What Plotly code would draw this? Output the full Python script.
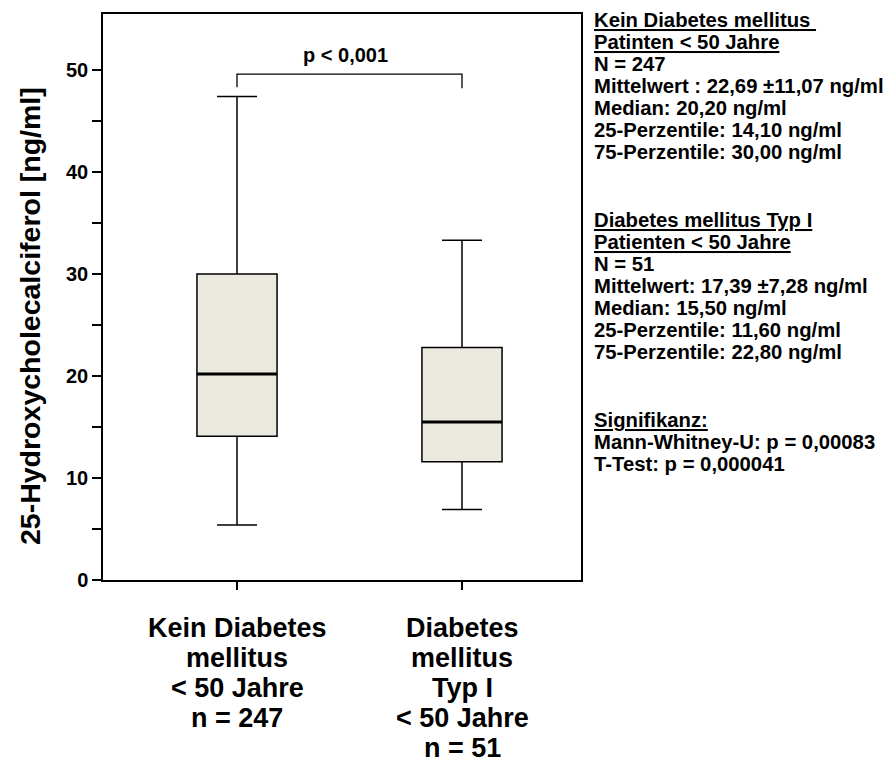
import plotly.graph_objects as go

# Vitamin D (25-OH-D3) distribution by patient group
group_pos = [1, 2]
group_labels = [
    ["Kein Diabetes", "mellitus", "< 50 Jahre", "n = 247"],
    ["Diabetes", "mellitus", "Typ I", "< 50 Jahre", "n = 51"],
]
whisker_low = [5.4, 6.9]
q1 = [14.1, 11.6]
median = [20.2, 15.5]
q3 = [30.0, 22.8]
whisker_high = [47.4, 33.3]

y_ticks = [0, 5, 10, 15, 20, 25, 30, 35, 40, 45, 50]
y_ticktext = ["0", "", "10", "", "20", "", "30", "", "40", "", "50"]

p_label = "p < 0,001"
bracket_top = 49.6
bracket_left_end = 48.3
bracket_right_end = 48.2

stats_lines = [
    ("Kein Diabetes mellitus ", True),
    ("Patinten < 50 Jahre", True),
    ("N = 247", False),
    ("Mittelwert : 22,69 ±11,07 ng/ml", False),
    ("Median: 20,20 ng/ml", False),
    ("25-Perzentile: 14,10 ng/ml", False),
    ("75-Perzentile: 30,00 ng/ml", False),
    ("Diabetes mellitus Typ I", True),
    ("Patienten < 50 Jahre", True),
    ("N = 51", False),
    ("Mittelwert: 17,39 ±7,28 ng/ml", False),
    ("Median: 15,50 ng/ml", False),
    ("25-Perzentile: 11,60 ng/ml", False),
    ("75-Perzentile: 22,80 ng/ml", False),
    ("Signifikanz:", True),
    ("Mann-Whitney-U: p = 0,00083", False),
    ("T-Test: p = 0,000041", False),
]
stats_line_y = [20, 42, 64, 86, 108, 130, 152,
                220, 242, 264, 286, 308, 330, 352,
                420, 442, 464]

FONT = "Liberation Sans, Arial, Helvetica, sans-serif"
W, H = 892, 767
L, R, T, B = 103, 581, 14, 580  # plot frame in pixels
BOX_W = 0.356
FILL = "#ECE9DF"


def px_x(px):
    return (px - L) / (R - L)


def px_y(py):
    return (B - py) / (B - T)


fig = go.Figure()

for i in range(len(group_pos)):
    fig.add_trace(go.Box(
        x=[group_pos[i]],
        q1=[q1[i]], median=[median[i]], q3=[q3[i]],
        lowerfence=[whisker_low[i]], upperfence=[whisker_high[i]],
        width=BOX_W, whiskerwidth=0.5,
        fillcolor=FILL,
        line=dict(color="black", width=1.5),
        boxpoints=False, hoverinfo="skip", showlegend=False,
    ))
    # heavier median bar
    fig.add_trace(go.Scatter(
        x=[group_pos[i] - BOX_W / 2, group_pos[i] + BOX_W / 2],
        y=[median[i], median[i]],
        mode="lines", line=dict(color="black", width=3),
        hoverinfo="skip", showlegend=False,
    ))

# significance bracket
fig.add_trace(go.Scatter(
    x=[group_pos[0], group_pos[0], group_pos[1], group_pos[1]],
    y=[bracket_left_end, bracket_top, bracket_top, bracket_right_end],
    mode="lines", line=dict(color="black", width=1.3),
    hoverinfo="skip", showlegend=False,
))

annotations = [
    dict(x=(group_pos[0] + group_pos[1]) / 2 - 0.02, y=51.5, xref="x", yref="y",
         text=p_label, showarrow=False, xanchor="center", yanchor="middle",
         font=dict(family=FONT, size=20, color="black", weight="bold")),
    dict(x=px_x(30), y=px_y(316), xref="paper", yref="paper",
         text="25-Hydroxycholecalciferol [ng/ml]", textangle=-90,
         showarrow=False, xanchor="center", yanchor="middle",
         font=dict(family=FONT, size=28.5, color="black", weight="bold")),
]

# category labels, one line per annotation for tight spacing
label_y0, label_dy = 628, 30
for gi, lines in enumerate(group_labels):
    for li, line in enumerate(lines):
        annotations.append(dict(
            x=group_pos[gi], y=px_y(label_y0 + li * label_dy),
            xref="x", yref="paper", text=line, showarrow=False,
            xanchor="center", yanchor="middle",
            font=dict(family=FONT, size=27, color="black", weight="bold"),
        ))

# statistics text block on the right
for (line, underline), py in zip(stats_lines, stats_line_y):
    txt = f'<span style="text-decoration:underline">{line}</span>' if underline else line
    annotations.append(dict(
        x=px_x(592), y=px_y(py), xref="paper", yref="paper",
        text=txt, showarrow=False, xanchor="left", yanchor="middle",
        font=dict(family=FONT, size=20.3, color="black", weight="bold"),
    ))

fig.update_layout(
    width=W, height=H,
    margin=dict(l=L, r=W - R, t=T, b=H - B, pad=0),
    paper_bgcolor="white", plot_bgcolor="white",
    annotations=annotations,
    xaxis=dict(
        range=[0.4044, 2.5289], tickvals=group_pos, ticktext=["", ""],
        ticks="outside", ticklen=8, tickwidth=1.5, tickcolor="black",
        showline=True, linecolor="black", linewidth=1.5, mirror=True,
        showgrid=False, zeroline=False, fixedrange=True,
    ),
    yaxis=dict(
        range=[0, 55.49], tickvals=y_ticks, ticktext=y_ticktext,
        ticks="outside", ticklen=9, tickwidth=1.5, tickcolor="black",
        tickfont=dict(family=FONT, size=20, color="black", weight="bold"),
        showline=True, linecolor="black", linewidth=1.5, mirror=True,
        showgrid=False, zeroline=False, fixedrange=True,
    ),
)

fig.write_html("out.html")
